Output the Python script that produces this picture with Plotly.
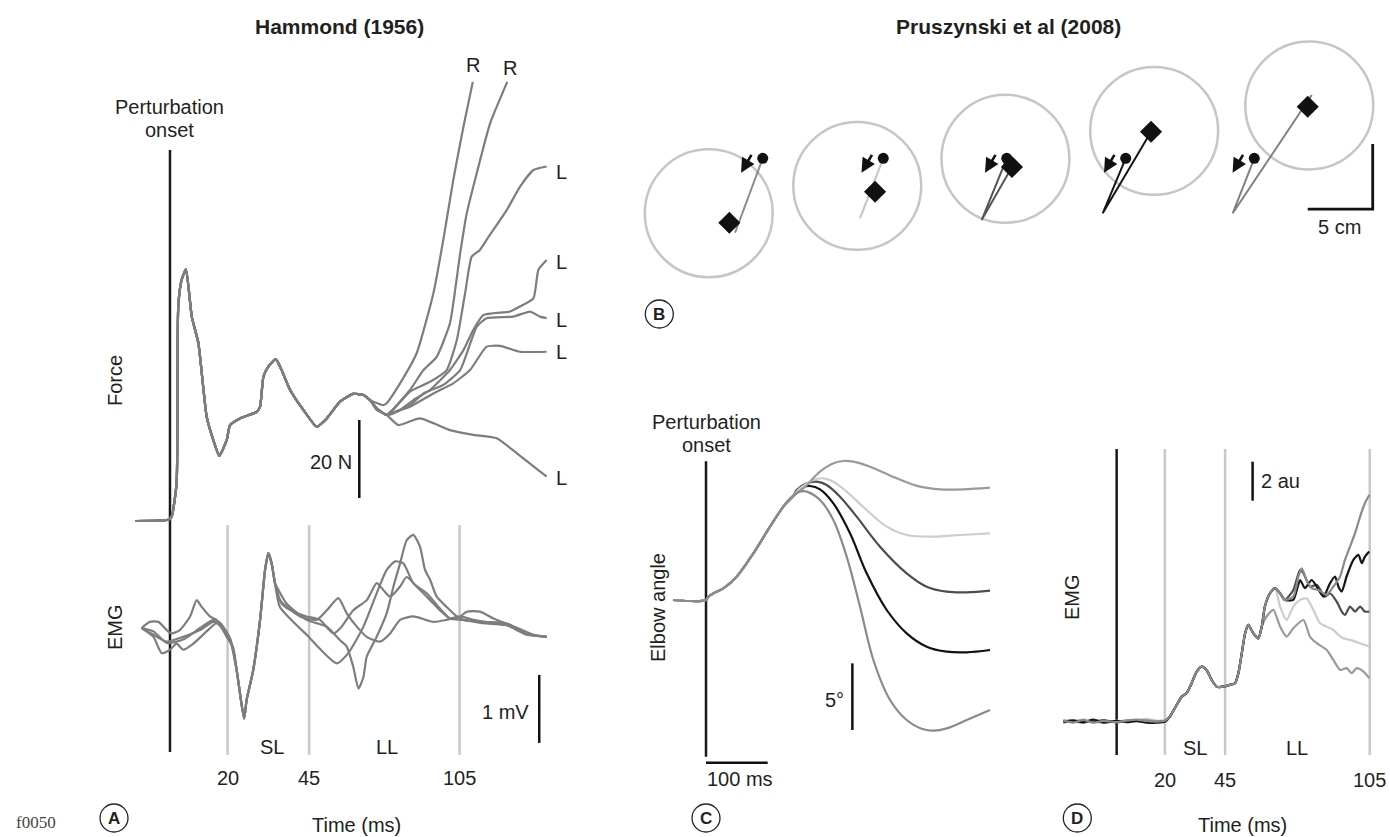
import plotly.graph_objects as go

W, H = 1390, 837
FONT = "Liberation Sans, Arial, Helvetica, sans-serif"
TXT = "#231f20"

# ================= DATA =================
# ---- Panel A: Hammond (1956) force traces (time in schematic ms, force in N) ----
A_trunk_t = [-12.7, -0.6, 0.6, 2.4, 3.0, 4.2, 5.8, 7.9, 10.3, 13.3, 15.7, 17.9, 20.6, 21.8, 25.4,
             31.5, 32.7, 33.9, 35.7, 38.4, 40.5, 43.6, 48.4, 53.2, 56.9, 61.7, 66.5, 70.2, 72.6]
A_trunk_f = [0, 0.3, 1.1, 9.7, 55.0, 61.8, 64.5, 52.4, 45.6, 26.8, 20.8, 16.7, 20.8, 24.6, 26.3,
             28.0, 29.3, 37.0, 39.6, 41.5, 38.7, 33.6, 28.5, 24.2, 26.3, 30.6, 32.6, 32.3, 31.0]
A_R1_t = [77.4, 78.6, 83.5, 89.5, 95.6, 99.2, 102.8, 106.5, 109.9]
A_R1_f = [29.7, 30.2, 35.3, 43.0, 58.4, 72.1, 87.4, 101.1, 112.6]
A_R2_t = [75.0, 78.6, 87.1, 92.0, 96.8, 101.6, 105.3, 107.7, 111.3, 116.2, 122.4]
A_R2_f = [28.9, 27.2, 33.6, 38.7, 42.1, 50.7, 68.6, 78.9, 89.1, 102.0, 112.6]
A_L1_t = [75.0, 78.6, 87.1, 94.4, 100.4, 104.1, 107.1, 109.5, 112.5, 114.9, 122.2, 127.0, 131.9, 136.7]
A_L1_f = [28.9, 27.2, 33.2, 35.7, 38.7, 46.4, 58.4, 67.8, 69.5, 72.1, 79.7, 85.7, 90.0, 90.9]
A_L2_t = [75.0, 78.6, 83.5, 88.3, 94.4, 101.6, 106.5, 110.1, 113.7, 123.4, 127.0, 131.9, 133.7, 136.7]
A_L2_f = [28.9, 27.2, 28.5, 31.0, 33.6, 38.7, 43.8, 49.0, 52.8, 53.7, 55.0, 57.1, 64.4, 66.9]
A_L3_t = [75.0, 78.6, 81.1, 87.1, 92.0, 99.2, 105.3, 111.3, 114.9, 124.6, 130.7, 134.3, 136.7]
A_L3_f = [28.9, 27.2, 27.6, 29.7, 32.7, 34.9, 38.7, 49.8, 52.0, 52.4, 53.7, 52.4, 52.0]
A_L4_t = [75.0, 78.6, 79.9, 87.1, 95.6, 102.8, 108.9, 114.9, 119.8, 127.0, 136.7]
A_L4_f = [28.9, 27.2, 27.6, 29.3, 32.7, 35.3, 38.7, 44.7, 44.9, 43.4, 43.4]
A_L5_t = [75.0, 78.6, 82.9, 90.7, 101.6, 110.1, 118.6, 125.8, 136.7]
A_L5_f = [28.5, 27.2, 24.6, 26.3, 23.3, 22.1, 21.2, 17.4, 11.4]
A_labels = ["R", "R", "L", "L", "L", "L", "L"]
A_label_t = [110.1, 123.4, 142.2, 142.2, 142.2, 142.2, 142.2]
A_label_f = [116.9, 116.2, 89.6, 66.5, 51.5, 43.4, 10.9]

# ---- Panel A: EMG (mV) ----
A_spike_t = [24.2, 25.4, 26.9, 27.8, 30.2, 32.7, 34.5, 35.7, 36.9, 38.1]
A_spike_v = [-0.62, -0.96, -1.33, -1.06, -0.62, 0.12, 0.85, 1.10, 0.95, 0.66]
A_e1_pre_t = [-10.3, -7.3, -4.2, -1.2, 0.6, 3.6, 7.3, 9.7, 11.5, 14.5, 16.9, 20.6, 23.0]
A_e1_pre_v = [0.0, 0.09, 0.09, -0.03, -0.08, -0.03, 0.17, 0.41, 0.31, 0.17, 0.12, -0.13, -0.30]
A_e1_post_t = [40.5, 44.8, 49.6, 54.4, 59.3, 62.3, 66.5, 71.4, 75.0, 77.4, 79.9, 83.5, 85.9, 89.5,
               94.4, 98.0, 101.6, 105.3, 107.7, 112.5, 117.4, 124.6, 130.7, 136.7]
A_e1_post_v = [0.36, 0.24, 0.17, 0.12, -0.08, 0.02, 0.26, 0.41, 0.66, 0.56, 0.46, 0.61, 0.75, 0.61,
               0.41, 0.26, 0.14, 0.17, 0.24, 0.24, 0.14, 0.02, -0.10, -0.13]
A_e2_pre_t = [-10.3, -6.0, -3.0, 0.0, 2.4, 4.8, 8.5, 13.3, 16.9, 19.4, 22.4]
A_e2_pre_v = [0.0, -0.13, -0.37, -0.32, -0.23, -0.32, -0.23, -0.05, 0.07, -0.03, -0.23]
A_e2_post_t = [39.9, 49.6, 60.5, 64.7, 70.2, 75.0, 78.6, 81.7, 84.7, 88.3, 93.2, 96.8, 101.6,
               106.5, 113.7, 122.2, 129.5, 136.7]
A_e2_post_v = [0.31, -0.10, -0.52, -0.37, 0.02, 0.51, 0.85, 0.98, 0.95, 0.66, 0.51, 0.34, 0.14,
               0.12, 0.07, 0.04, -0.10, -0.13]
A_e3_pre_t = [-10.3, -6.0, -1.2, 4.8, 10.9, 15.7, 18.1, 21.8]
A_e3_pre_v = [0.0, -0.10, -0.20, -0.13, -0.03, 0.09, 0.04, -0.18]
A_e3_post_t = [39.9, 47.2, 53.2, 56.9, 61.1, 64.1, 67.8, 71.4, 76.2, 79.9, 83.5, 88.3, 95.6,
               100.4, 105.3, 110.1, 117.4, 124.6, 131.9, 136.7]
A_e3_post_v = [0.41, 0.17, 0.12, 0.26, 0.44, 0.22, 0.02, -0.13, -0.20, -0.08, 0.12, 0.17, 0.09,
               0.12, 0.17, 0.12, 0.07, 0.02, -0.10, -0.13]
A_e4_pre_t = [-10.3, -6.0, -1.2, 4.8, 10.9, 15.7, 18.1, 21.8]
A_e4_pre_v = [0.0, -0.05, -0.22, -0.17, 0.0, 0.12, 0.08, -0.15]
A_e4_post_t = [38.7, 42.3, 49.6, 56.9, 61.7, 64.1, 66.5, 68.4, 70.2, 71.4, 75.0, 78.6, 81.1, 83.5,
               85.9, 88.3, 90.7, 92.6, 94.4, 96.8, 100.4, 104.1, 106.5, 113.7, 122.2, 129.5, 136.7]
A_e4_post_v = [0.61, 0.36, 0.12, 0.02, -0.18, -0.27, -0.57, -0.89, -0.72, -0.42, -0.13, 0.21, 0.61,
               0.95, 1.29, 1.37, 1.20, 0.85, 0.71, 0.46, 0.31, 0.17, 0.12, 0.09, 0.07, -0.08, -0.13]
A_epoch_t = [20.9, 50.5, 105.1]
A_epoch_labels = ["20", "45", "105"]

# ---- Panel B: reach trials (cm) ----
B_target_x = [6.06, 17.48, 28.88, 40.32, 52.25]
B_target_y = [8.98, 11.09, 13.17, 15.32, 17.27]
B_target_r = 4.92
B_start_x = [10.21, 19.48, 28.98, 38.13, 48.02]
B_start_y = [13.21, 13.21, 13.21, 13.21, 13.21]
B_hand_x = [7.64, 18.85, 29.38, 40.08, 52.13]
B_hand_y = [8.25, 10.64, 12.54, 15.25, 17.18]
B_path_x = [[10.21, 8.08], [19.48, 17.69], [28.98, 27.05, 29.38], [38.13, 36.36, 40.08],
            [48.02, 46.36, 52.44]]
B_path_y = [[13.21, 7.48], [13.21, 8.59], [13.21, 8.46, 12.54], [13.21, 8.98, 15.25],
            [13.21, 8.98, 18.08]]
B_path_col = ["#8c8c8c", "#c4c4c4", "#555555", "#151515", "#808080"]

# ---- Panel C: elbow angle (ms, deg) ----
C_rise_t = [-53.5, 0, 3.8, 11.9, 28.1, 49.7, 76.8, 103.8, 125.4]
C_rise_a = [0, 0, 0.25, 0.5, 0.875, 1.75, 3.5, 5.5, 7.0]
C_t = [
    [141.6, 157.8, 184.9, 206.5, 222.7, 238.9, 265.9, 309.2, 347.0, 379.5, 417.3, 460.5],
    [141.6, 152.4, 174.1, 190.3, 206.5, 228.1, 260.5, 293.0, 325.4, 368.6, 411.9, 460.5],
    [141.6, 147.0, 163.2, 179.5, 195.7, 217.3, 244.3, 282.2, 325.4, 357.8, 390.3, 422.7, 460.5],
    [141.6, 157.8, 168.6, 184.9, 206.5, 233.5, 260.5, 293.0, 325.4, 357.8, 390.3, 422.7, 460.5],
    [136.2, 152.4, 163.2, 184.9, 206.5, 228.1, 249.7, 271.4, 298.4, 325.4, 352.4, 368.6, 390.3, 422.7, 460.5],
]
C_a = [
    [7.85, 8.375, 9.625, 10.25, 10.425, 10.375, 10.0, 9.125, 8.5, 8.3, 8.3, 8.425],
    [7.8, 8.375, 9.0, 9.125, 8.875, 8.125, 6.75, 5.5, 4.875, 4.75, 4.875, 5.0],
    [7.8, 8.25, 8.75, 8.875, 8.625, 7.75, 6.25, 4.0, 2.0, 1.0, 0.625, 0.575, 0.7],
    [7.8, 8.45, 8.55, 8.3, 7.25, 5.0, 2.0, -0.75, -2.5, -3.5, -3.875, -3.925, -3.75],
    [7.6, 8.125, 8.125, 7.5, 6.0, 3.25, -0.5, -4.5, -7.5, -9.0, -9.7, -9.8, -9.625, -9.0, -8.25],
]
C_col = ["#9a9a9a", "#cdcdcd", "#4d4d4d", "#111111", "#8a8a8a"]

# ---- Panel D: EMG (ms, au) ----
D_base_t = [-22.1, -18.0, -13.8, -9.7, -5.5, 0, 4.1, 8.3, 12.4, 16.6, 20.1]
D_base_v = {
    "top":   [0.05, -0.05, 0.08, -0.06, 0.04, -0.03, 0.05, 0.10, 0.03, 0.0, 0.05],
    "black": [0.0, 0.06, -0.04, 0.10, -0.05, 0.04, -0.03, 0.02, -0.05, -0.06, 0.0],
    "dark":  [-0.04, 0.02, 0.05, -0.02, 0.08, -0.05, 0.04, 0.06, 0.0, -0.03, 0.02],
    "light": [0.02, -0.03, 0.12, 0.0, -0.06, 0.05, 0.0, 0.08, 0.14, 0.05, 0.08],
    "low":   [0.06, 0.0, -0.05, 0.04, 0.02, 0.0, 0.06, 0.03, 0.07, 0.02, 0.04],
}
D_common_t = [22.1, 24.9, 27.0, 29.0, 31.1, 33.2, 35.3, 37.3, 39.4, 41.5, 44.3, 47.0, 49.1, 50.5,
              51.9, 53.3, 54.6, 56.7, 58.8, 60.2, 61.5, 63.6, 65.7, 67.8, 69.8]
D_common_v = [0.26, 0.85, 1.28, 1.45, 1.97, 2.56, 2.82, 2.65, 2.14, 1.79, 1.79, 1.88, 1.97, 2.48,
              3.50, 4.53, 4.96, 4.53, 4.27, 4.87, 5.90, 6.58, 6.84, 6.58, 6.24]
D_tail_t = {
    "top":   [73.3, 75.4, 76.8, 78.8, 80.9, 83.7, 87.1, 89.9, 92.7, 94.7, 96.8, 98.9, 101.0, 103.0, 104.8],
    "black": [73.3, 76.1, 78.1, 80.9, 83.0, 85.8, 88.5, 90.6, 92.0, 93.4, 95.4, 98.2, 100.3, 101.7, 103.0, 104.8],
    "dark":  [73.3, 76.1, 77.5, 80.2, 83.0, 86.4, 88.5, 91.3, 93.4, 94.7, 96.8, 98.9, 101.0, 103.0, 104.8],
    "light": [67.8, 70.5, 73.3, 76.1, 78.8, 81.6, 84.4, 87.1, 89.9, 92.0, 94.0, 96.8, 101.0, 104.8],
    "low":   [62.2, 65.0, 67.8, 70.5, 73.3, 77.5, 80.2, 83.0, 87.1, 89.9, 92.7, 95.4, 97.5, 99.6, 102.4, 104.8],
}
D_tail_v = {
    "top":   [6.41, 7.44, 7.86, 7.26, 6.84, 6.75, 6.50, 6.92, 7.44, 8.29, 8.97, 9.66, 10.51, 11.20, 11.62],
    "black": [6.24, 7.26, 6.84, 7.26, 6.92, 6.41, 7.09, 7.44, 6.92, 6.67, 7.44, 8.29, 8.55, 8.12, 8.46, 8.72],
    "dark":  [6.75, 7.78, 7.61, 6.92, 7.01, 6.41, 6.58, 6.15, 5.64, 5.47, 5.90, 5.64, 5.90, 5.64, 5.64],
    "light": [5.90, 5.21, 5.90, 6.24, 6.32, 5.73, 5.04, 4.87, 4.70, 4.44, 4.27, 4.19, 4.02, 3.85],
    "low":   [5.38, 5.73, 4.87, 4.36, 4.79, 5.21, 4.36, 4.02, 3.68, 3.16, 2.65, 2.74, 2.48, 2.74, 2.56, 2.22],
}
D_common_len = {"top": 25, "black": 25, "dark": 25, "light": 23, "low": 20}
D_col = {"light": "#cccccc", "low": "#9a9a9a", "top": "#8a8a8a", "dark": "#4d4d4d", "black": "#151515"}
D_epoch_t = [20, 45, 105]
D_epoch_labels = ["20", "45", "105"]

# ================= FIGURE =================
def dom_x(p0, p1):
    return [p0 / W, p1 / W]

def dom_y(top, bottom):
    return [1 - bottom / H, 1 - top / H]

def PX(px):
    return px / W

def PY(py):
    return 1 - py / H

fig = go.Figure()

def line(x, y, color, width=2.2, xa="x", ya="y", smooth=0.6, shape="spline"):
    fig.add_trace(go.Scatter(x=x, y=y, mode="lines", xaxis=xa, yaxis=ya,
                             line=dict(color=color, width=width, shape=shape,
                                       smoothing=smooth if shape == "spline" else None),
                             hoverinfo="skip", showlegend=False))

GREY_A = "#7d7d7d"
# Panel A force
for bt, bf in [(A_L5_t, A_L5_f), (A_L4_t, A_L4_f), (A_L3_t, A_L3_f), (A_L2_t, A_L2_f),
               (A_L1_t, A_L1_f), (A_R2_t, A_R2_f), (A_R1_t, A_R1_f)]:
    line(A_trunk_t + bt, A_trunk_f + bf, GREY_A, xa="x", ya="y", smooth=0.5)
# Panel A EMG
for pt, pv, qt, qv in [(A_e1_pre_t, A_e1_pre_v, A_e1_post_t, A_e1_post_v),
                       (A_e2_pre_t, A_e2_pre_v, A_e2_post_t, A_e2_post_v),
                       (A_e3_pre_t, A_e3_pre_v, A_e3_post_t, A_e3_post_v),
                       (A_e4_pre_t, A_e4_pre_v, A_e4_post_t, A_e4_post_v)]:
    line(pt + A_spike_t + qt, pv + A_spike_v + qv, GREY_A, xa="x2", ya="y2", smooth=0.6)

# Panel B
for px_, py_, col in zip(B_path_x, B_path_y, B_path_col):
    line(px_, py_, col, width=2, xa="x3", ya="y3", shape="linear")
fig.add_trace(go.Scatter(x=B_start_x, y=B_start_y, mode="markers", xaxis="x3", yaxis="y3",
                         marker=dict(symbol="circle", size=11, color="#111111"),
                         hoverinfo="skip", showlegend=False))
fig.add_trace(go.Scatter(x=B_hand_x, y=B_hand_y, mode="markers", xaxis="x3", yaxis="y3",
                         marker=dict(symbol="diamond", size=17, color="#111111"),
                         hoverinfo="skip", showlegend=False))

# Panel C (gray traces drawn last so the shared rise reads grey, as in the reference)
for k in [3, 2, 1, 0, 4]:
    line(C_rise_t + C_t[k], C_rise_a + C_a[k], C_col[k], width=2.2, xa="x4", ya="y4", smooth=1.0)

# Panel D
for key in ["light", "low", "dark", "black", "top"]:
    n = D_common_len[key]
    xs = D_base_t + D_common_t[:n] + D_tail_t[key]
    ys = D_base_v[key] + D_common_v[:n] + D_tail_v[key]
    line(xs, ys, D_col[key], width=2.2, xa="x5", ya="y5", smooth=0.6)

shapes = []
ann = []

def vline(x, xref, y0, y1, yref="paper", color="#1a1a1a", width=2.5):
    shapes.append(dict(type="line", xref=xref, yref=yref, x0=x, x1=x, y0=y0, y1=y1,
                       line=dict(color=color, width=width), layer="below"))

def text(s, x, y, xref="paper", yref="paper", size=20, xanchor="center", yanchor="middle",
         angle=0, color=TXT, family=FONT):
    ann.append(dict(text=s, x=x, y=y, xref=xref, yref=yref, showarrow=False,
                    font=dict(family=family, size=size, color=color),
                    xanchor=xanchor, yanchor=yanchor, textangle=angle))

# ---- Panel A decorations ----
for t in A_epoch_t:
    vline(t, "x", PY(755), PY(525), color="#c8c8c8")
vline(0, "x", PY(752), PY(150))
shapes.append(dict(type="line", xref="x", yref="y", x0=68.7, x1=68.7, y0=5.9, y1=25.9,
                   line=dict(color="#111", width=2.5)))
shapes.append(dict(type="line", xref="x2", yref="y2", x0=134.0, x1=134.0, y0=-0.69, y1=-1.69,
                   line=dict(color="#111", width=2.5)))
text("Perturbation", 0, PY(107), xref="x")
text("onset", 0, PY(130), xref="x")
text("Force", PX(115), PY(381), angle=-90)
text("EMG", PX(115), PY(627), angle=-90)
text("20 N", 66.6, 15.2, xref="x", yref="y", xanchor="right")
text("1 mV", 131.0, -1.23, xref="x2", yref="y2", xanchor="right")
for s, t, f in zip(A_labels, A_label_t, A_label_f):
    text(s, t, f, xref="x", yref="y")
text("SL", (A_epoch_t[0] + A_epoch_t[1]) / 2 + 1.5, PY(747), xref="x")
text("LL", (A_epoch_t[1] + A_epoch_t[2]) / 2 + 1.0, PY(747), xref="x")
for s, t in zip(A_epoch_labels, A_epoch_t):
    text(s, t, PY(778), xref="x")
text("Time (ms)", PX(356.5), PY(825))
text("<b>Hammond (1956)</b>", PX(339), PY(26), size=21)

# ---- Panel B decorations ----
for cx, cy in zip(B_target_x, B_target_y):
    shapes.append(dict(type="circle", xref="x3", yref="y3", x0=cx - B_target_r, x1=cx + B_target_r,
                       y0=cy - B_target_r, y1=cy + B_target_r,
                       line=dict(color="#c6c6c6", width=2.5), layer="below"))
for sx, sy in zip(B_start_x, B_start_y):
    ann.append(dict(x=sx - 1.67, y=sy - 1.11, ax=sx - 0.80, ay=sy + 0.38, xref="x3", yref="y3",
                    axref="x3", ayref="y3", showarrow=True, arrowhead=2, arrowsize=1.1,
                    arrowwidth=2.6, arrowcolor="#111111", text=""))
shapes.append(dict(type="path", xref="x3", yref="y3",
                   path="M 52.13 9.3 L 57.13 9.3 L 57.13 14.3",
                   line=dict(color="#111", width=2.8)))
text("5 cm", 54.56, 7.95, xref="x3", yref="y3")
text("<b>Pruszynski et al (2008)</b>", PX(1008), PY(26), size=21)

# ---- Panel C decorations ----
vline(0, "x4", -11.75, 10.4, yref="y4")
shapes.append(dict(type="line", xref="x4", yref="y4", x0=0, x1=100, y0=-12.2, y1=-12.2,
                   line=dict(color="#111", width=2.5)))
shapes.append(dict(type="line", xref="x4", yref="y4", x0=237.3, x1=237.3, y0=-4.75, y1=-9.75,
                   line=dict(color="#111", width=2.5)))
text("100 ms", -1.5, -13.4, xref="x4", yref="y4", xanchor="left")
text("5°", 227.0, -7.5, xref="x4", yref="y4", xanchor="right")
text("Perturbation", 0, PY(422), xref="x4")
text("onset", 0, PY(445), xref="x4")
text("Elbow angle", PX(658), PY(608), angle=-90)

# ---- Panel D decorations ----
for t in D_epoch_t:
    vline(t, "x5", PY(755), PY(449), color="#c8c8c8")
vline(0, "x5", PY(755), PY(449))
shapes.append(dict(type="line", xref="x5", yref="y5", x0=56.4, x1=56.4, y0=11.33, y1=13.33,
                   line=dict(color="#111", width=2.5)))
text("2 au", 59.0, 12.33, xref="x5", yref="y5", xanchor="left")
text("SL", (D_epoch_t[0] + D_epoch_t[1]) / 2, PY(748), xref="x5")
text("LL", (D_epoch_t[1] + D_epoch_t[2]) / 2, PY(748), xref="x5")
for s, t in zip(D_epoch_labels, D_epoch_t):
    text(s, t, PY(780), xref="x5")
text("EMG", PX(1072), PY(597), angle=-90)
text("Time (ms)", PX(1242.5), PY(825))

# ---- circled panel letters ----
for letter, cx, cy in [("A", 114, 818), ("B", 659.3, 314), ("C", 706, 818), ("D", 1077.3, 818)]:
    shapes.append(dict(type="circle", xref="paper", yref="paper", x0=PX(cx - 14), x1=PX(cx + 14),
                       y0=PY(cy + 14), y1=PY(cy - 14), line=dict(color="#222", width=1.3)))
    text("<b>%s</b>" % letter, PX(cx), PY(cy + 0.5), size=17)

text("f0050", PX(36), PY(822), size=17, family="Liberation Serif, Times New Roman, serif",
     color="#444444")

ax_off = dict(visible=False, showgrid=False, zeroline=False, fixedrange=True)
fig.update_layout(
    width=W, height=H, autosize=False,
    margin=dict(l=0, r=0, t=0, b=0),
    paper_bgcolor="white", plot_bgcolor="rgba(0,0,0,0)",
    showlegend=False,
    shapes=shapes, annotations=ann,
    xaxis=dict(domain=dom_x(100, 580), range=[-25.4, 148.8], anchor="y", **ax_off),
    yaxis=dict(domain=dom_y(40, 530), range=[-2.31, 123.33], anchor="x", **ax_off),
    xaxis2=dict(domain=dom_x(100, 580), range=[-25.4, 148.8], anchor="y2", **ax_off),
    yaxis2=dict(domain=dom_y(520, 770), range=[-2.088, 1.588], anchor="x2", **ax_off),
    xaxis3=dict(domain=dom_x(630, 1390), range=[0, 58.46], anchor="y3", **ax_off),
    yaxis3=dict(domain=dom_y(30, 330), range=[0, 23.08], anchor="x3", **ax_off),
    xaxis4=dict(domain=dom_x(650, 1010), range=[-90.8, 492.9], anchor="y4", **ax_off),
    yaxis4=dict(domain=dom_y(400, 800), range=[-15, 15], anchor="x4", **ax_off),
    xaxis5=dict(domain=dom_x(1040, 1390), range=[-31.8, 113.4], anchor="y5", **ax_off),
    yaxis5=dict(domain=dom_y(440, 760), range=[-1.97, 14.44], anchor="x5", **ax_off),
)

fig.write_html("out.html", config={"displayModeBar": False, "staticPlot": True},
               post_script="document.body.style.margin='0';document.body.style.overflow='hidden';")
